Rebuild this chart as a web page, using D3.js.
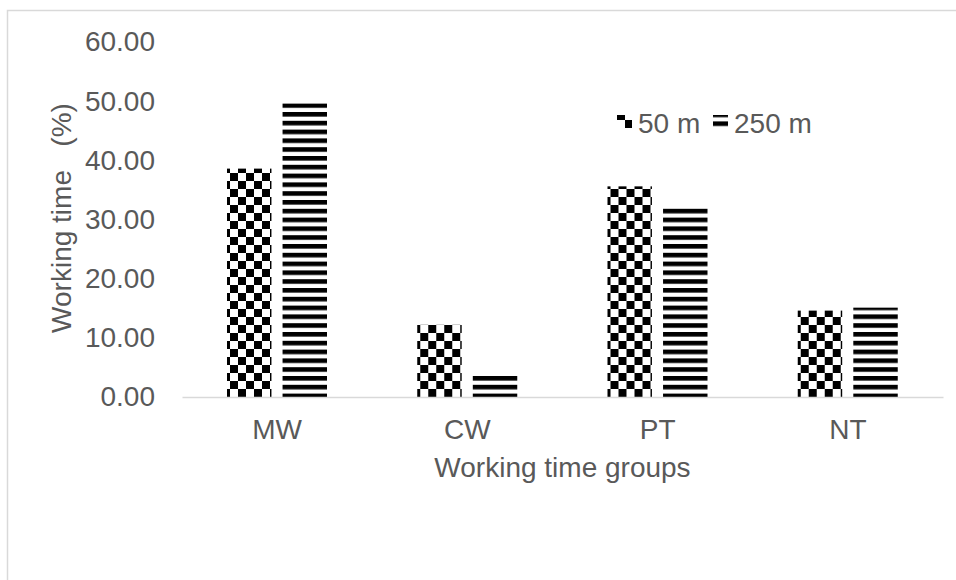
<!DOCTYPE html>
<html>
<head>
<meta charset="utf-8">
<script src="https://cdn.jsdelivr.net/npm/d3@7"></script>
<style>
  body { margin: 0; background: #fff; }
  text { font-family: "Liberation Sans", Arial, sans-serif; fill: #595959; }
</style>
</head>
<body>
<div id="chart"></div>
<script>
// data
var categories = ["MW", "CW", "PT", "NT"];
var seriesNames = ["50 m", "250 m"];
var values50 = [38.6, 12.2, 35.6, 14.6];
var values250 = [49.6, 3.6, 32.2, 15.1];
var yTicks = [0, 10, 20, 30, 40, 50, 60];

// size and margins
var width = 956;
var height = 580;
var plot = {left: 182, right: 943, top: 42, bottom: 397};
var fontSize = 28;

var svg = d3.select("#chart")
            .append("svg")
            .attr("width", width)
            .attr("height", height);

// fill patterns: checkerboard for 50 m, horizontal stripes for 250 m
var defs = svg.append("defs");
var checker = defs.append("pattern")
                  .attr("id", "pat50")
                  .attr("patternUnits", "userSpaceOnUse")
                  .attr("width", 16)
                  .attr("height", 16)
                  .attr("y", plot.bottom);
checker.append("rect").attr("width", 16).attr("height", 16).attr("fill", "#fff");
checker.append("rect").attr("width", 8).attr("height", 8).attr("fill", "#000");
checker.append("rect").attr("x", 8).attr("y", 8).attr("width", 8).attr("height", 8).attr("fill", "#000");

var stripes = defs.append("pattern")
                  .attr("id", "pat250")
                  .attr("patternUnits", "userSpaceOnUse")
                  .attr("width", 16)
                  .attr("height", 8.8)
                  .attr("y", 376);
stripes.append("rect").attr("width", 16).attr("height", 8.8).attr("fill", "#fff");
stripes.append("rect").attr("width", 16).attr("height", 4.6).attr("fill", "#000");

var patterns = {"50 m": "url(#pat50)", "250 m": "url(#pat250)"};

// outer frame (only top and left edges are inside the picture)
svg.append("rect")
   .attr("x", 7.5)
   .attr("y", 10.5)
   .attr("width", 1000)
   .attr("height", 1000)
   .attr("fill", "none")
   .attr("stroke", "#d9d9d9")
   .attr("stroke-width", 1.5);

// scales
var x0 = d3.scaleBand()
           .domain(categories)
           .range([plot.left, plot.right])
           .padding(0);
var x1 = d3.scaleBand()
           .domain(seriesNames)
           .range([45, 145])
           .paddingInner(0.2)
           .paddingOuter(0);
var yScale = d3.scaleLinear()
               .domain([0, 60])
               .range([plot.bottom, plot.top]);

// y tick labels
svg.append("g")
   .attr("class", "yAxis")
   .attr("transform", "translate(" + plot.left + ",0)")
   .call(d3.axisLeft(yScale).tickValues(yTicks).tickFormat(d3.format(".2f")).tickSize(0).tickPadding(27))
   .call(function(g) { g.select(".domain").remove(); })
   .call(function(g) {
     g.selectAll("text")
      .attr("font-size", fontSize)
      .attr("font-family", null)
      .attr("fill", "#595959");
   });

// bars
var rows = categories.map(function(c, i) {
  return {cat: c, vals: [{s: "50 m", v: values50[i]}, {s: "250 m", v: values250[i]}]};
});
var groups = svg.selectAll(".cat")
                .data(rows)
                .enter().append("g")
                .attr("class", "cat")
                .attr("transform", function(d) { return "translate(" + x0(d.cat) + ",0)"; });
groups.selectAll("rect")
      .data(function(d) { return d.vals; })
      .enter().append("rect")
      .attr("x", function(d) { return x1(d.s); })
      .attr("width", x1.bandwidth())
      .attr("y", function(d) { return yScale(d.v); })
      .attr("height", function(d) { return yScale(0) - yScale(d.v); })
      .attr("fill", function(d) { return patterns[d.s]; });

// x axis
svg.append("g")
   .attr("class", "xAxis")
   .attr("transform", "translate(0," + plot.bottom + ")")
   .call(d3.axisBottom(x0).tickSize(0).tickPadding(22).tickSizeOuter(0))
   .call(function(g) {
     g.select(".domain").attr("stroke", "#d9d9d9").attr("stroke-width", 1.5);
     g.selectAll("text")
      .attr("font-size", fontSize)
      .attr("font-family", null)
      .attr("fill", "#595959");
   });

// axis titles
svg.append("text")
   .text("Working time groups")
   .attr("x", (plot.left + plot.right) / 2)
   .attr("y", 477)
   .attr("text-anchor", "middle")
   .attr("font-size", fontSize);
svg.append("text")
   .text("Working time   (%)")
   .attr("transform", "translate(71,218) rotate(-90)")
   .attr("text-anchor", "middle")
   .attr("font-size", fontSize)
   .style("white-space", "pre");

// legend
var legendX = [617, 713];
var legend = svg.selectAll(".legend")
                .data(seriesNames)
                .enter().append("g")
                .attr("class", "legend")
                .attr("transform", function(d, i) { return "translate(" + legendX[i] + ",115)"; });
legend.append("rect")
      .attr("width", 15)
      .attr("height", 13)
      .attr("fill", function(d) { return patterns[d]; });
legend.append("text")
      .text(function(d) { return d; })
      .attr("x", 21)
      .attr("y", 18)
      .attr("font-size", fontSize);
</script>
</body>
</html>
